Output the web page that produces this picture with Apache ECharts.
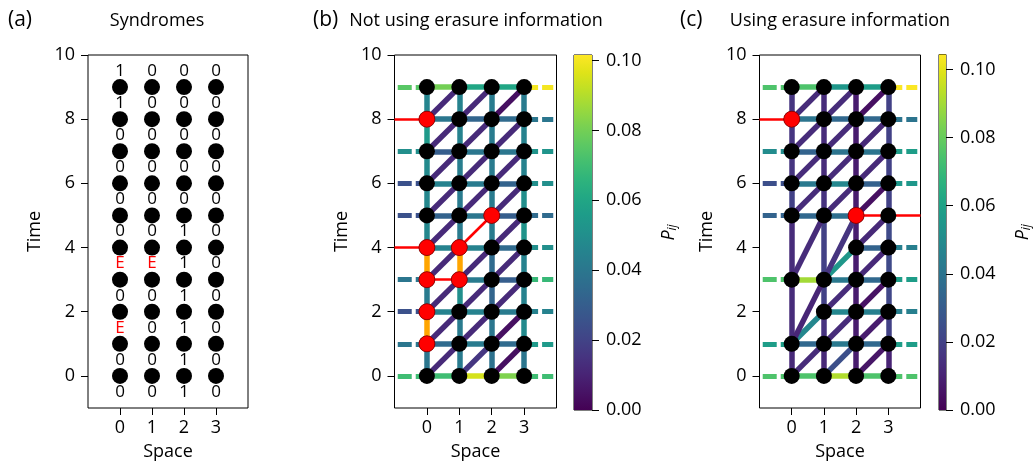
<!DOCTYPE html>
<html><head><meta charset="utf-8">
<script src="https://cdn.jsdelivr.net/npm/echarts@6/dist/echarts.min.js"></script>
<style>html,body{margin:0;padding:0;background:#fff}#c{width:1034px;height:466px}</style>
</head><body><div id="c"></div>
<script>
const FONT = "'Open Sans', 'Noto Sans', sans-serif";

// ---------- shared axes ----------
const xTicks = [0, 1, 2, 3];
const yTicks = [0, 2, 4, 6, 8, 10];
const cbTicks = [0, 0.02, 0.04, 0.06, 0.08, 0.10];
const spaces = [0, 1, 2, 3];
const times = [0, 1, 2, 3, 4, 5, 6, 7, 8, 9];

// ---------- panel (a): syndromes ----------
const syndromeTimes = [-0.5, 0.5, 1.5, 2.5, 3.5, 4.5, 5.5, 6.5, 7.5, 8.5, 9.5];
const syndromes = [
  ['0', '0', '1', '0'],
  ['0', '0', '1', '0'],
  ['E', '0', '1', '0'],
  ['0', '0', '1', '0'],
  ['E', 'E', '1', '0'],
  ['0', '0', '1', '0'],
  ['0', '0', '0', '0'],
  ['0', '0', '0', '0'],
  ['0', '0', '0', '0'],
  ['1', '0', '0', '0'],
  ['1', '0', '0', '0']
];

// ---------- panel (b): not using erasure information ----------
const bVmax = 0.1016;
// vertical edges per column, t -> t+1 ('E' = erased edge)
const bVert = [
  [0.040, 'E', 0.042, 'E', 0.047, 0.047, 0.048, 0.055, 0.046],
  [0.042, 0.042, 0.050, 'E', 0.042, 0.042, 0.043, 0.045, 0.045],
  [0.038, 0.040, 0.033, 0.035, 0.042, 0.042, 0.042, 0.042, 0.042],
  [0.040, 0.048, 0.045, 0.045, 0.052, 0.050, 0.045, 0.045, 0.042]
];
// horizontal edges per time, x -> x+1
const bHoriz = [
  [0.070, 0.095, 0.082],
  [0.035, 0.042, 0.035],
  [0.045, 0.045, 0.042],
  [null, 0.042, 0.030],
  [0.045, 0.045, 0.035],
  [0.032, 0.040, 0.030],
  [0.045, 0.042, 0.032],
  [0.030, 0.040, 0.040],
  [0.040, 0.033, 0.035],
  [0.080, 0.060, 0.060]
];
const bLeft = [0.070, 0.040, 0.025, 0.040, null, 0.025, 0.025, 0.050, null, 0.075];
const bRight = [0.070, 0.055, 0.045, 0.068, 0.050, 0.035, 0.050, 0.052, 0.040, 0.100];
// diagonal edges per time t: (x,t) -> (x+1,t+1)
const bDiag = [
  [0.012, 0.016, 0.004],
  [0.012, 0.012, 0.004],
  [0.012, 0.012, 0.012],
  [0.012, 0.012, 0.012],
  [0.012, null, 0.012],
  [0.012, 0.012, 0.012],
  [0.012, 0.012, 0.012],
  [0.012, 0.012, 0.012],
  [0.012, 0.012, 0.004]
];
const bRedNodes = [[0, 8], [0, 4], [1, 4], [2, 5], [0, 3], [1, 3], [0, 2], [0, 1]];
const bRedPaths = [[[-1, 8], [0, 8]], [[-1, 4], [0, 4]], [[1, 4], [2, 5]], [[0, 3], [1, 3]]];

// ---------- panel (c): using erasure information ----------
const cVmax = 0.1044;
const cNodeTimes = [
  [0, 1, 3, 5, 6, 7, 8, 9],
  [0, 1, 2, 3, 5, 6, 7, 8, 9],
  [0, 1, 2, 3, 4, 5, 6, 7, 8, 9],
  [0, 1, 2, 3, 4, 5, 6, 7, 8, 9]
];
// vertical edges per column: [t1, t2, P]
const cVert = [
  [[0, 1, 0.012], [1, 3, 0.013], [3, 5, 0.013], [5, 6, 0.020], [6, 7, 0.016], [7, 8, 0.016], [8, 9, 0.016]],
  [[0, 1, 0.012], [1, 2, 0.015], [2, 3, 0.020], [3, 5, 0.020], [5, 6, 0.015], [6, 7, 0.013], [7, 8, 0.013], [8, 9, 0.013]],
  [[0, 1, 0.008], [1, 2, 0.008], [2, 3, 0.008], [3, 4, 0.008], [4, 5, 0.008], [5, 6, 0.008], [6, 7, 0.008], [7, 8, 0.008], [8, 9, 0.008]],
  [[0, 1, 0.010], [1, 2, 0.020], [2, 3, 0.022], [3, 4, 0.023], [4, 5, 0.023], [5, 6, 0.020], [6, 7, 0.020], [7, 8, 0.020], [8, 9, 0.020]]
];
// horizontal edges: [t, x, P] for (x,t) -> (x+1,t)
const cHoriz = [
  [0, 0, 0.075], [0, 1, 0.092], [0, 2, 0.075],
  [1, 0, 0.035], [1, 1, 0.042], [1, 2, 0.035],
  [2, 1, 0.048], [2, 2, 0.045],
  [3, 0, 0.090], [3, 1, 0.042], [3, 2, 0.035],
  [4, 2, 0.033],
  [5, 0, 0.035], [5, 1, 0.038],
  [6, 0, 0.042], [6, 1, 0.048], [6, 2, 0.032],
  [7, 0, 0.033], [7, 1, 0.040], [7, 2, 0.040],
  [8, 0, 0.040], [8, 1, 0.035], [8, 2, 0.035],
  [9, 0, 0.075], [9, 1, 0.055], [9, 2, 0.058]
];
const cLeft = [[0, 0.075], [1, 0.058], [3, 0.075], [5, 0.033], [6, 0.025], [7, 0.050], [9, 0.075]];
const cRight = [[0, 0.075], [1, 0.058], [2, 0.045], [3, 0.058], [4, 0.045], [6, 0.055], [7, 0.058], [8, 0.040], [9, 0.104]];
// diagonal / skip edges: [x1, t1, x2, t2, P]
const cDiag = [
  [0, 0, 1, 1, 0.013], [1, 0, 2, 1, 0.025], [2, 0, 3, 1, 0.006],
  [0, 1, 1, 2, 0.048], [0, 1, 1, 3, 0.011], [1, 1, 2, 2, 0.013], [2, 1, 3, 2, 0.008],
  [1, 2, 2, 3, 0.013], [2, 2, 3, 3, 0.005],
  [0, 3, 1, 5, 0.013], [1, 3, 2, 4, 0.055], [1, 3, 2, 5, 0.016], [2, 3, 3, 4, 0.012],
  [2, 4, 3, 5, 0.012],
  [0, 5, 1, 6, 0.013], [1, 5, 2, 6, 0.013], [2, 5, 3, 6, 0.004],
  [0, 6, 1, 7, 0.013], [1, 6, 2, 7, 0.013], [2, 6, 3, 7, 0.012],
  [0, 7, 1, 8, 0.013], [1, 7, 2, 8, 0.013], [2, 7, 3, 8, 0.012],
  [0, 8, 1, 9, 0.013], [1, 8, 2, 9, 0.013], [2, 8, 3, 9, 0.004]
];
const cRedNodes = [[0, 8], [2, 5]];
const cRedPaths = [[[-1, 8], [0, 8]], [[2, 5], [4, 5]]];

// ---------- helpers ----------
const VIR = ['#440154','#471365','#482475','#463480','#414487','#3b528b','#355f8d','#2f6c8e','#2a788e','#25848e','#21918c','#1e9c89','#22a884','#2fb47c','#44bf70','#5ec962','#7ad151','#9bd93c','#bddf26','#dfe318','#fde725'];
function hex2rgb(h){return [parseInt(h.slice(1,3),16),parseInt(h.slice(3,5),16),parseInt(h.slice(5,7),16)];}
function vir(f){
  f = Math.max(0, Math.min(1, f));
  const s = f * (VIR.length - 1);
  const i = Math.min(Math.floor(s), VIR.length - 2);
  const t = s - i;
  const a = hex2rgb(VIR[i]), b = hex2rgb(VIR[i + 1]);
  const c = a.map((v, k) => Math.round(v + (b[k] - v) * t));
  return 'rgb(' + c.join(',') + ')';
}
const EXT = 0.9; // boundary edge reach
function seg(x1, y1, x2, y2, color) { return { coords: [[x1, y1], [x2, y2]], lineStyle: { color: color } }; }

// build panel b
const bSolid = [], bDash = [], bOrange = [];
bVert.forEach((col, x) => col.forEach((p, t) => {
  if (p === 'E') bOrange.push(seg(x, t, x, t + 1, '#ffa500'));
  else if (p != null) bSolid.push(seg(x, t, x, t + 1, vir(p / bVmax)));
}));
bHoriz.forEach((row, t) => row.forEach((p, x) => { if (p != null) bSolid.push(seg(x, t, x + 1, t, vir(p / bVmax))); }));
bDiag.forEach((row, t) => row.forEach((p, x) => { if (p != null) bSolid.push(seg(x, t, x + 1, t + 1, vir(p / bVmax))); }));
bLeft.forEach((p, t) => { if (p != null) bDash.push(seg(-EXT, t, 0, t, vir(p / bVmax))); });
bRight.forEach((p, t) => { if (p != null) bDash.push(seg(3, t, 3 + EXT, t, vir(p / bVmax))); });
const bNodes = [];
spaces.forEach(x => times.forEach(t => bNodes.push([x, t])));

// build panel c
const cSolid = [], cDash = [];
cVert.forEach((col, x) => col.forEach(([t1, t2, p]) => cSolid.push(seg(x, t1, x, t2, vir(p / cVmax)))));
cHoriz.forEach(([t, x, p]) => cSolid.push(seg(x, t, x + 1, t, vir(p / cVmax))));
cDiag.forEach(([x1, t1, x2, t2, p]) => cSolid.push(seg(x1, t1, x2, t2, vir(p / cVmax))));
cLeft.forEach(([t, p]) => cDash.push(seg(-EXT, t, 0, t, vir(p / cVmax))));
cRight.forEach(([t, p]) => cDash.push(seg(3, t, 3 + EXT, t, vir(p / cVmax))));
const cNodes = [];
cNodeTimes.forEach((ts, x) => ts.forEach(t => cNodes.push([x, t])));

// panel a
const aNodes = [];
spaces.forEach(x => times.forEach(t => aNodes.push([x, t])));
const aLabels = [];
syndromeTimes.forEach((t, r) => syndromes[r].forEach((s, x) => aLabels.push({
  value: [x, t], name: s, label: { color: s === 'E' ? '#ff0000' : '#000000' }
})));

// ---------- axes ----------
const tickStyle = { show: true, length: 7, inside: false, lineStyle: { color: '#000', width: 1 } };
const labStyle = { color: '#000', fontFamily: FONT, fontSize: 18 };
function mainX(gi) {
  return { type: 'value', gridIndex: gi, min: -1, max: 4, position: 'bottom',
    axisLine: { show: false, onZero: false }, splitLine: { show: false },
    axisTick: Object.assign({ customValues: xTicks }, tickStyle),
    axisLabel: Object.assign({ customValues: xTicks, margin: 11 }, labStyle),
    name: 'Space', nameLocation: 'middle', nameGap: 35,
    nameTextStyle: { color: '#000', fontFamily: FONT, fontSize: 18 } };
}
function mainY(gi) {
  return { type: 'value', gridIndex: gi, min: -1, max: 10, position: 'left',
    axisLine: { show: false, onZero: false }, splitLine: { show: false },
    axisTick: Object.assign({ customValues: yTicks }, tickStyle),
    axisLabel: Object.assign({ customValues: yTicks, margin: 13 }, labStyle),
    name: 'Time', nameLocation: 'middle', nameGap: 44,
    nameTextStyle: { color: '#000', fontFamily: FONT, fontSize: 18 } };
}
function cbX(gi) { return { type: 'category', gridIndex: gi, data: ['cb'], show: false }; }
function cbY(gi, vmax, gap) {
  return { type: 'value', gridIndex: gi, min: 0, max: vmax, position: 'right',
    axisLine: { show: false, onZero: false }, splitLine: { show: false },
    axisTick: Object.assign({ customValues: cbTicks }, tickStyle),
    axisLabel: Object.assign({ customValues: cbTicks, margin: 14, formatter: v => v.toFixed(2) }, labStyle),
    name: '{p|P}{s|ij}', nameLocation: 'middle', nameGap: gap, nameRotate: 90,
    nameTextStyle: { color: '#000', rich: {
      p: { fontFamily: FONT, fontSize: 18, fontStyle: 'italic', color: '#000' },
      s: { fontFamily: FONT, fontSize: 12, fontStyle: 'italic', color: '#000', padding: [9, 0, 0, 0] }
    } } };
}
const gridBase = { show: true, borderColor: '#000', borderWidth: 1, backgroundColor: 'transparent', containLabel: false };
const VIR_STOPS = VIR.map((c, i) => ({ offset: i / (VIR.length - 1), color: c }));
function cbSeries(gi, vmax) {
  return { type: 'bar', xAxisIndex: gi, yAxisIndex: gi, data: [vmax], barWidth: '100%', silent: true,
    itemStyle: { color: { type: 'linear', x: 0, y: 1, x2: 0, y2: 0, colorStops: VIR_STOPS } } };
}
function linesSeries(gi, data, width, z, dash) {
  return { type: 'lines', coordinateSystem: 'cartesian2d', xAxisIndex: gi, yAxisIndex: gi, z: z, silent: true,
    data: data, lineStyle: { width: width, opacity: 1, type: dash || 'solid', cap: 'butt' } };
}
function nodeSeries(gi, data, color, z, border) {
  return { type: 'scatter', xAxisIndex: gi, yAxisIndex: gi, z: z, silent: true, symbolSize: 16, data: data,
    itemStyle: { color: color, opacity: 1, borderColor: border || color, borderWidth: border ? 0.8 : 0 } };
}
function redPaths(paths) { return paths.map(p => ({ coords: p, lineStyle: { color: '#ff0000' } })); }

const option = {
  animation: false,
  backgroundColor: '#fff',
  textStyle: { fontFamily: FONT },
  grid: [
    Object.assign({ left: 88, top: 55, width: 160, height: 354 }, gridBase),
    Object.assign({ left: 394.5, top: 55, width: 162, height: 354 }, gridBase),
    Object.assign({ left: 759.5, top: 55, width: 161, height: 354 }, gridBase),
    Object.assign({ left: 574, top: 55, width: 18, height: 355 }, gridBase),
    Object.assign({ left: 939, top: 54.5, width: 17, height: 355.5 }, gridBase)
  ],
  xAxis: [mainX(0), mainX(1), mainX(2), cbX(3), cbX(4)],
  yAxis: [mainY(0), mainY(1), mainY(2), cbY(3, bVmax, 66), cbY(4, cVmax, 66)],
  graphic: [
    { type: 'text', x: 8, y: 20, style: { text: '(a)', fontSize: 21, fontFamily: FONT, fill: '#000', verticalAlign: 'middle', align: 'left' } },
    { type: 'text', x: 157, y: 21, style: { text: 'Syndromes', fontSize: 18, fontFamily: FONT, fill: '#000', verticalAlign: 'middle', align: 'center' } },
    { type: 'text', x: 313, y: 20, style: { text: '(b)', fontSize: 21, fontFamily: FONT, fill: '#000', verticalAlign: 'middle', align: 'left' } },
    { type: 'text', x: 476, y: 21, style: { text: 'Not using erasure information', fontSize: 18, fontFamily: FONT, fill: '#000', verticalAlign: 'middle', align: 'center' } },
    { type: 'text', x: 680, y: 20, style: { text: '(c)', fontSize: 21, fontFamily: FONT, fill: '#000', verticalAlign: 'middle', align: 'left' } },
    { type: 'text', x: 840, y: 21, style: { text: 'Using erasure information', fontSize: 18, fontFamily: FONT, fill: '#000', verticalAlign: 'middle', align: 'center' } }
  ],
  series: [
    // panel a
    nodeSeries(0, aNodes, '#000', 3),
    { type: 'scatter', xAxisIndex: 0, yAxisIndex: 0, z: 5, silent: true, symbolSize: 1,
      itemStyle: { color: 'rgba(0,0,0,0)' }, data: aLabels,
      label: { show: true, position: 'inside', formatter: p => p.name, fontFamily: FONT, fontSize: 17,
        textBorderWidth: 0, textBorderColor: 'transparent', opacity: 1 } },
    // panel b
    linesSeries(1, bDash, 5, 2, [14, 4]),
    linesSeries(1, bSolid, 5.5, 3),
    linesSeries(1, bOrange, 5.5, 4),
    linesSeries(1, redPaths(bRedPaths), 2.6, 5),
    nodeSeries(1, bNodes, '#000', 6),
    nodeSeries(1, bRedNodes, '#ff0000', 7, '#8b0000'),
    // panel c
    linesSeries(2, cDash, 5, 2, [14, 4]),
    linesSeries(2, cSolid, 5.5, 3),
    linesSeries(2, redPaths(cRedPaths), 2.6, 5),
    nodeSeries(2, cNodes, '#000', 6),
    nodeSeries(2, cRedNodes, '#ff0000', 7, '#8b0000'),
    // colorbars
    cbSeries(3, bVmax),
    cbSeries(4, cVmax)
  ]
};
echarts.init(document.getElementById('c'), null, { renderer: 'canvas' }).setOption(option);
</script></body></html>
